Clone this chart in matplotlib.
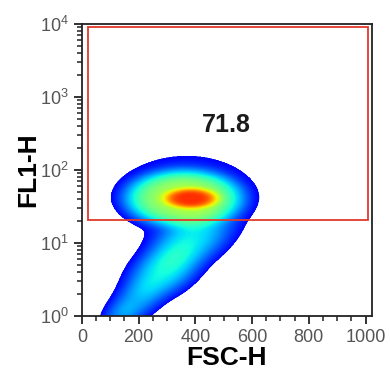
import numpy as np
import matplotlib
matplotlib.use("Agg")
import matplotlib.pyplot as plt
from matplotlib.patches import Rectangle
from matplotlib.colors import ListedColormap
from matplotlib.ticker import MultipleLocator, LogLocator, NullFormatter

plt.rcParams['font.family'] = ['Liberation Sans', 'DejaVu Sans']

# Population clusters in (FSC-H, log10 FL1-H) space
cluster_fsc = [385, 360, 370, 385, 290, 195, 135]
cluster_logfl1 = [1.62, 1.62, 1.65, 1.05, 0.62, 0.22, 0.00]
cluster_sd_fsc = [75, 160, 145, 90, 80, 60, 45]
cluster_sd_logfl1 = [0.11, 0.30, 0.33, 0.25, 0.24, 0.20, 0.15]
cluster_weight = [0.60, 0.36, 0.08, 0.16, 0.18, 0.09, 0.06]
cluster_corr = [0.0, 0.0, 0.0, 0.4, 0.4, 0.4, 0.3]
cluster_shape = [2.0, 2.2, 1.2, 1.2, 1.2, 1.2, 1.2]

# Gate and its percentage
gate_fsc = [21, 1007]
gate_fl1 = [21, 9100]
gate_label = "71.8"

x_ticks = [0, 200, 400, 600, 800, 1000]

xs = np.linspace(0, 1023, 600)
us = np.linspace(0, 4, 600)
X, U = np.meshgrid(xs, us)
Z = np.zeros_like(X)
for mx, mu, sx, su, w, r, p in zip(cluster_fsc, cluster_logfl1, cluster_sd_fsc,
                                   cluster_sd_logfl1, cluster_weight,
                                   cluster_corr, cluster_shape):
    dx = (X - mx) / sx
    du = (U - mu) / su
    q = (dx**2 - 2 * r * dx * du + du**2) / (1 - r**2)
    Z += w * np.exp(-0.5 * q**p)
Z /= Z.max()
Zd = Z ** 0.55
thr = 0.10
Zm = np.ma.masked_less(Zd, thr)

fig = plt.figure(figsize=(3.9, 3.83), dpi=100)
ax = fig.add_axes([0.21, 0.175, 0.744, 0.762])

jet = plt.get_cmap('jet')
cmap = ListedColormap(jet(np.linspace(0.13, 0.86, 256)))
ax.pcolormesh(X, 10 ** U, Zm, cmap=cmap, vmin=thr, vmax=1.0,
              shading='gouraud', rasterized=True)

ax.set_yscale('log')
ax.set_xlim(0, 1023)
ax.set_ylim(1, 1e4)

ax.add_patch(Rectangle((gate_fsc[0], gate_fl1[0]), gate_fsc[1] - gate_fsc[0],
                       gate_fl1[1] - gate_fl1[0], fill=False,
                       edgecolor='#e0392b', linewidth=1.3, zorder=5))
ax.text(509, 415, gate_label, ha='center', va='center', fontsize=18,
        fontweight='bold', color='#1a1a1a')

ax.set_xticks(x_ticks)
ax.xaxis.set_minor_locator(MultipleLocator(50))
ax.yaxis.set_major_locator(LogLocator(base=10, numticks=10))
ax.yaxis.set_minor_locator(LogLocator(base=10, subs=np.arange(2, 10), numticks=10))
ax.yaxis.set_minor_formatter(NullFormatter())

ax.tick_params(which='major', direction='out', length=6, width=1.3,
               labelsize=13, labelcolor='#555555', color='#222222')
ax.tick_params(which='minor', direction='out', length=3.5, width=1.1, color='#222222')
for s in ax.spines.values():
    s.set_linewidth(1.3)
    s.set_color('#222222')

ax.set_xlabel('FSC-H', fontsize=19, fontweight='bold', labelpad=0)
ax.set_ylabel('FL1-H', fontsize=19, fontweight='bold', labelpad=0)

fig.savefig('out.png', dpi=100, facecolor='white')
